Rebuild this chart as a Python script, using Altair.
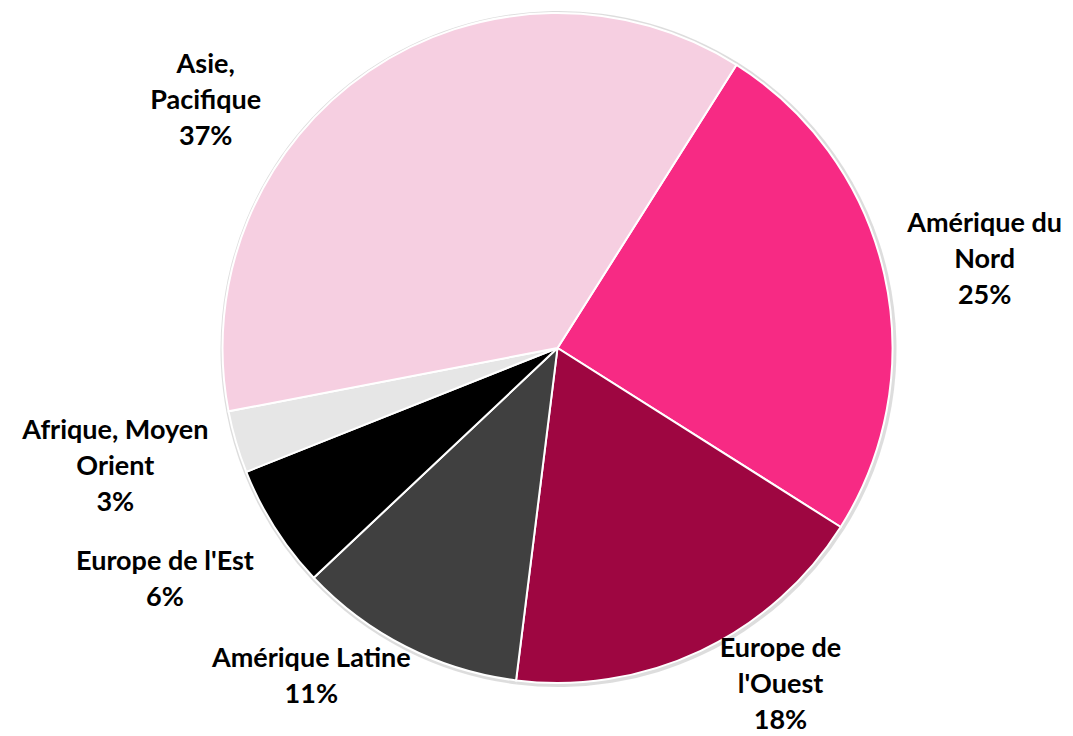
import math
import altair as alt
import pandas as pd

# ---- data ----
regions = ["Amérique du Nord", "Europe de l'Ouest", "Amérique Latine",
           "Europe de l'Est", "Afrique, Moyen Orient", "Asie, Pacifique"]
label_text = ["Amérique du\nNord", "Europe de\nl'Ouest", "Amérique Latine",
              "Europe de l'Est", "Afrique, Moyen\nOrient", "Asie,\nPacifique"]
shares = [25, 18, 11, 6, 3, 37]

# ---- style / layout ----
colors = ["#F72A84", "#9E0641", "#404040", "#000000", "#E6E6E6", "#F6CFE1"]
CX, CY, R = 549.5, 340, 335
START = math.radians(32.3)
LINE_H = 36
# label block centre (angle in degrees clockwise from 12 o'clock, distance from centre in px)
label_layout = {
    "Amérique du Nord": (78.4, 436),
    "Europe de l'Ouest": (146.5, 404),
    "Amérique Latine": (216.8, 411),
    "Europe de l'Est": (239.4, 456),
    "Afrique, Moyen Orient": (254.9, 458),
    "Asie, Pacifique": (305.1, 430),
}

labels_full = [f"{t}\n{v}%" for t, v in zip(label_text, shares)]


def first_line_anchor(region, text):
    # Vega draws the first line of a multi-line text at the anchor; shift up so
    # the whole block is centred on the layout point
    ang, dist = label_layout[region]
    a = math.radians(ang)
    dx, dy = dist * math.sin(a), -dist * math.cos(a)
    n = text.count("\n") + 1
    dy -= (n - 1) * LINE_H / 2
    return math.atan2(dx, -dy), math.hypot(dx, dy)


anchors = [first_line_anchor(r, t) for r, t in zip(regions, labels_full)]

df = pd.DataFrame({
    "region": regions,
    "share": shares,
    "order": list(range(len(regions))),
    "label": labels_full,
    "lab_theta": [a[0] for a in anchors],
    "lab_r": [a[1] for a in anchors],
})

base = alt.Chart(df)

theta_scale = alt.Scale(range=[START, START + 2 * math.pi])

shadow = base.mark_arc(radius=R + 3, color="#d4d4d4", opacity=0.8).encode(
    theta=alt.Theta("share:Q", stack=True, scale=theta_scale),
    order=alt.Order("order:Q"),
    x=alt.value(CX + 1),
    y=alt.value(CY + 1),
)

pie = base.mark_arc(radius=R, stroke="white", strokeWidth=2).encode(
    theta=alt.Theta("share:Q", stack=True, scale=theta_scale),
    color=alt.Color("region:N", scale=alt.Scale(domain=regions, range=colors), legend=None),
    order=alt.Order("order:Q"),
    x=alt.value(CX),
    y=alt.value(CY),
)

labels = base.mark_text(
    font="Lato", fontWeight="bold", fontSize=27, lineBreak="\n", lineHeight=LINE_H,
    align="center", baseline="middle", color="#000000",
).encode(
    theta=alt.Theta("lab_theta:Q", scale=None),
    radius=alt.Radius("lab_r:Q", scale=None),
    text="label:N",
    x=alt.value(CX),
    y=alt.value(CY),
)

chart = alt.layer(shadow, pie, labels).properties(
    width=1057, height=728, autosize="none", padding=0, background="white",
).configure_view(stroke=None)

chart.save("out.html", embed_options={"renderer": "svg", "actions": False})
